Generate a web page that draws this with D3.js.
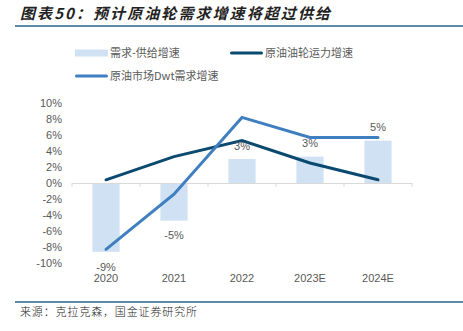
<!DOCTYPE html>
<meta charset="utf-8">
<style>
body { margin: 0; background: #fff; }
svg { font-family: "Liberation Sans", Arial, "Noto Sans CJK SC", sans-serif; }
.cjk { font-family: "Noto Sans CJK SC", sans-serif; }
</style>
<script src="https://d3js.org/d3.v7.min.js"></script>
<svg width="463" height="331"></svg>
<script>
var years = ["2020", "2021", "2022", "2023E", "2024E"];
var gap = [-8.6, -4.7, 3.0, 3.3, 5.3];              // 需求-供给增速
var gapLabels = ["-9%", "-5%", "3%", "3%", "5%"];
var fleet = [0.4, 3.3, 5.3, 2.5, 0.4];              // 原油油轮运力增速
var demand = [-8.3, -1.4, 8.2, 5.7, 5.7];           // 原油市场Dwt需求增速
var yTicks = [10, 8, 6, 4, 2, 0, -2, -4, -6, -8, -10];

var svg = d3.select("svg");
var grey = "#595959";

// title
svg.append("text")
    .attr("class", "cjk")
    .attr("x", 20).attr("y", 19)
    .attr("font-size", 15).attr("font-weight", 600).attr("font-style", "italic")
    .attr("fill", "#222")
    .attr("textLength", 310)
    .text("图表50：预计原油轮需求增速将超过供给");
svg.append("line")
    .attr("x1", 15).attr("x2", 463).attr("y1", 26).attr("y2", 26)
    .attr("stroke", "#5b8ba6").attr("stroke-width", 2);

// footer
svg.append("line")
    .attr("x1", 15).attr("x2", 463).attr("y1", 302).attr("y2", 302)
    .attr("stroke", "#5b8ba6").attr("stroke-width", 2);
svg.append("text")
    .attr("class", "cjk")
    .attr("x", 20).attr("y", 316)
    .attr("font-size", 11).attr("font-weight", 300).attr("fill", "#222")
    .attr("textLength", 177)
    .text("来源：克拉克森，国金证券研究所");

var x = d3.scaleBand().domain(years).range([72, 412]);
var y = d3.scaleLinear().domain([-10, 10]).range([263, 103]);

// y axis labels
svg.append("g").selectAll("text")
  .data(yTicks)
  .enter().append("text")
    .attr("x", 62)
    .attr("y", function(d) { return y(d); })
    .attr("dy", "0.35em")
    .attr("text-anchor", "end")
    .attr("font-size", 11)
    .attr("fill", grey)
    .text(function(d) { return d + "%"; });

// bars
svg.append("g").selectAll("rect")
  .data(gap)
  .enter().append("rect")
    .attr("x", function(d, i) { return x(years[i]) + x.bandwidth() * 0.3; })
    .attr("width", x.bandwidth() * 0.4)
    .attr("y", function(d) { return y(Math.max(0, d)); })
    .attr("height", function(d) { return Math.abs(y(d) - y(0)); })
    .attr("fill", "#cfe1f2");

// zero axis with ticks
var xAxis = svg.append("g")
    .attr("transform", "translate(0," + y(0) + ")")
    .call(d3.axisBottom(x).tickSize(0).tickFormat(""));
xAxis.select(".domain").attr("stroke", "#d9d9d9").attr("stroke-width", 1);
xAxis.selectAll(".sep")
  .data(d3.range(years.length + 1))
  .enter().append("line")
    .attr("x1", function(i) { return 72 + i * x.step(); })
    .attr("x2", function(i) { return 72 + i * x.step(); })
    .attr("y1", 0).attr("y2", 4)
    .attr("stroke", "#d9d9d9");

// lines
var line = d3.line()
    .x(function(d, i) { return x(years[i]) + x.bandwidth() / 2; })
    .y(function(d) { return y(d); });

svg.append("path")
    .datum(fleet)
    .attr("d", line)
    .attr("fill", "none")
    .attr("stroke", "#0a4a70")
    .attr("stroke-width", 3)
    .attr("stroke-linecap", "round");

svg.append("path")
    .datum(demand)
    .attr("d", line)
    .attr("fill", "none")
    .attr("stroke", "#3f7fc0")
    .attr("stroke-width", 3)
    .attr("stroke-linecap", "round");

// bar value labels
svg.append("g").selectAll("text")
  .data(gap)
  .enter().append("text")
    .attr("x", function(d, i) { return x(years[i]) + x.bandwidth() / 2; })
    .attr("y", function(d) { return d < 0 ? y(d) + 15 : y(d) - 13; })
    .attr("dy", "0.35em")
    .attr("text-anchor", "middle")
    .attr("font-size", 11)
    .attr("fill", grey)
    .text(function(d, i) { return gapLabels[i]; });

// x labels
svg.append("g").selectAll("text")
  .data(years)
  .enter().append("text")
    .attr("x", function(d) { return x(d) + x.bandwidth() / 2; })
    .attr("y", 278)
    .attr("dy", "0.35em")
    .attr("text-anchor", "middle")
    .attr("font-size", 11)
    .attr("fill", grey)
    .text(function(d) { return d; });

// legend
var legend = [
  {name: "需求-供给增速", type: "bar", color: "#cfe1f2", x: 75, y: 53},
  {name: "原油油轮运力增速", type: "line", color: "#0a4a70", x: 230, y: 53},
  {name: "原油市场Dwt需求增速", type: "line", color: "#3f7fc0", x: 75, y: 76}
];
var lg = svg.append("g").selectAll("g")
  .data(legend)
  .enter().append("g")
    .attr("transform", function(d) { return "translate(" + d.x + "," + d.y + ")"; });
lg.append("rect")
    .attr("x", 0)
    .attr("y", function(d) { return d.type === "bar" ? -3.5 : -1.5; })
    .attr("width", 33)
    .attr("height", function(d) { return d.type === "bar" ? 7 : 3; })
    .attr("rx", function(d) { return d.type === "bar" ? 0 : 1.5; })
    .attr("fill", function(d) { return d.color; });
lg.append("text")
    .attr("class", "cjk")
    .attr("x", 35)
    .attr("dy", "0.35em")
    .attr("font-size", 11)
    .attr("fill", grey)
    .text(function(d) { return d.name; });
</script>
